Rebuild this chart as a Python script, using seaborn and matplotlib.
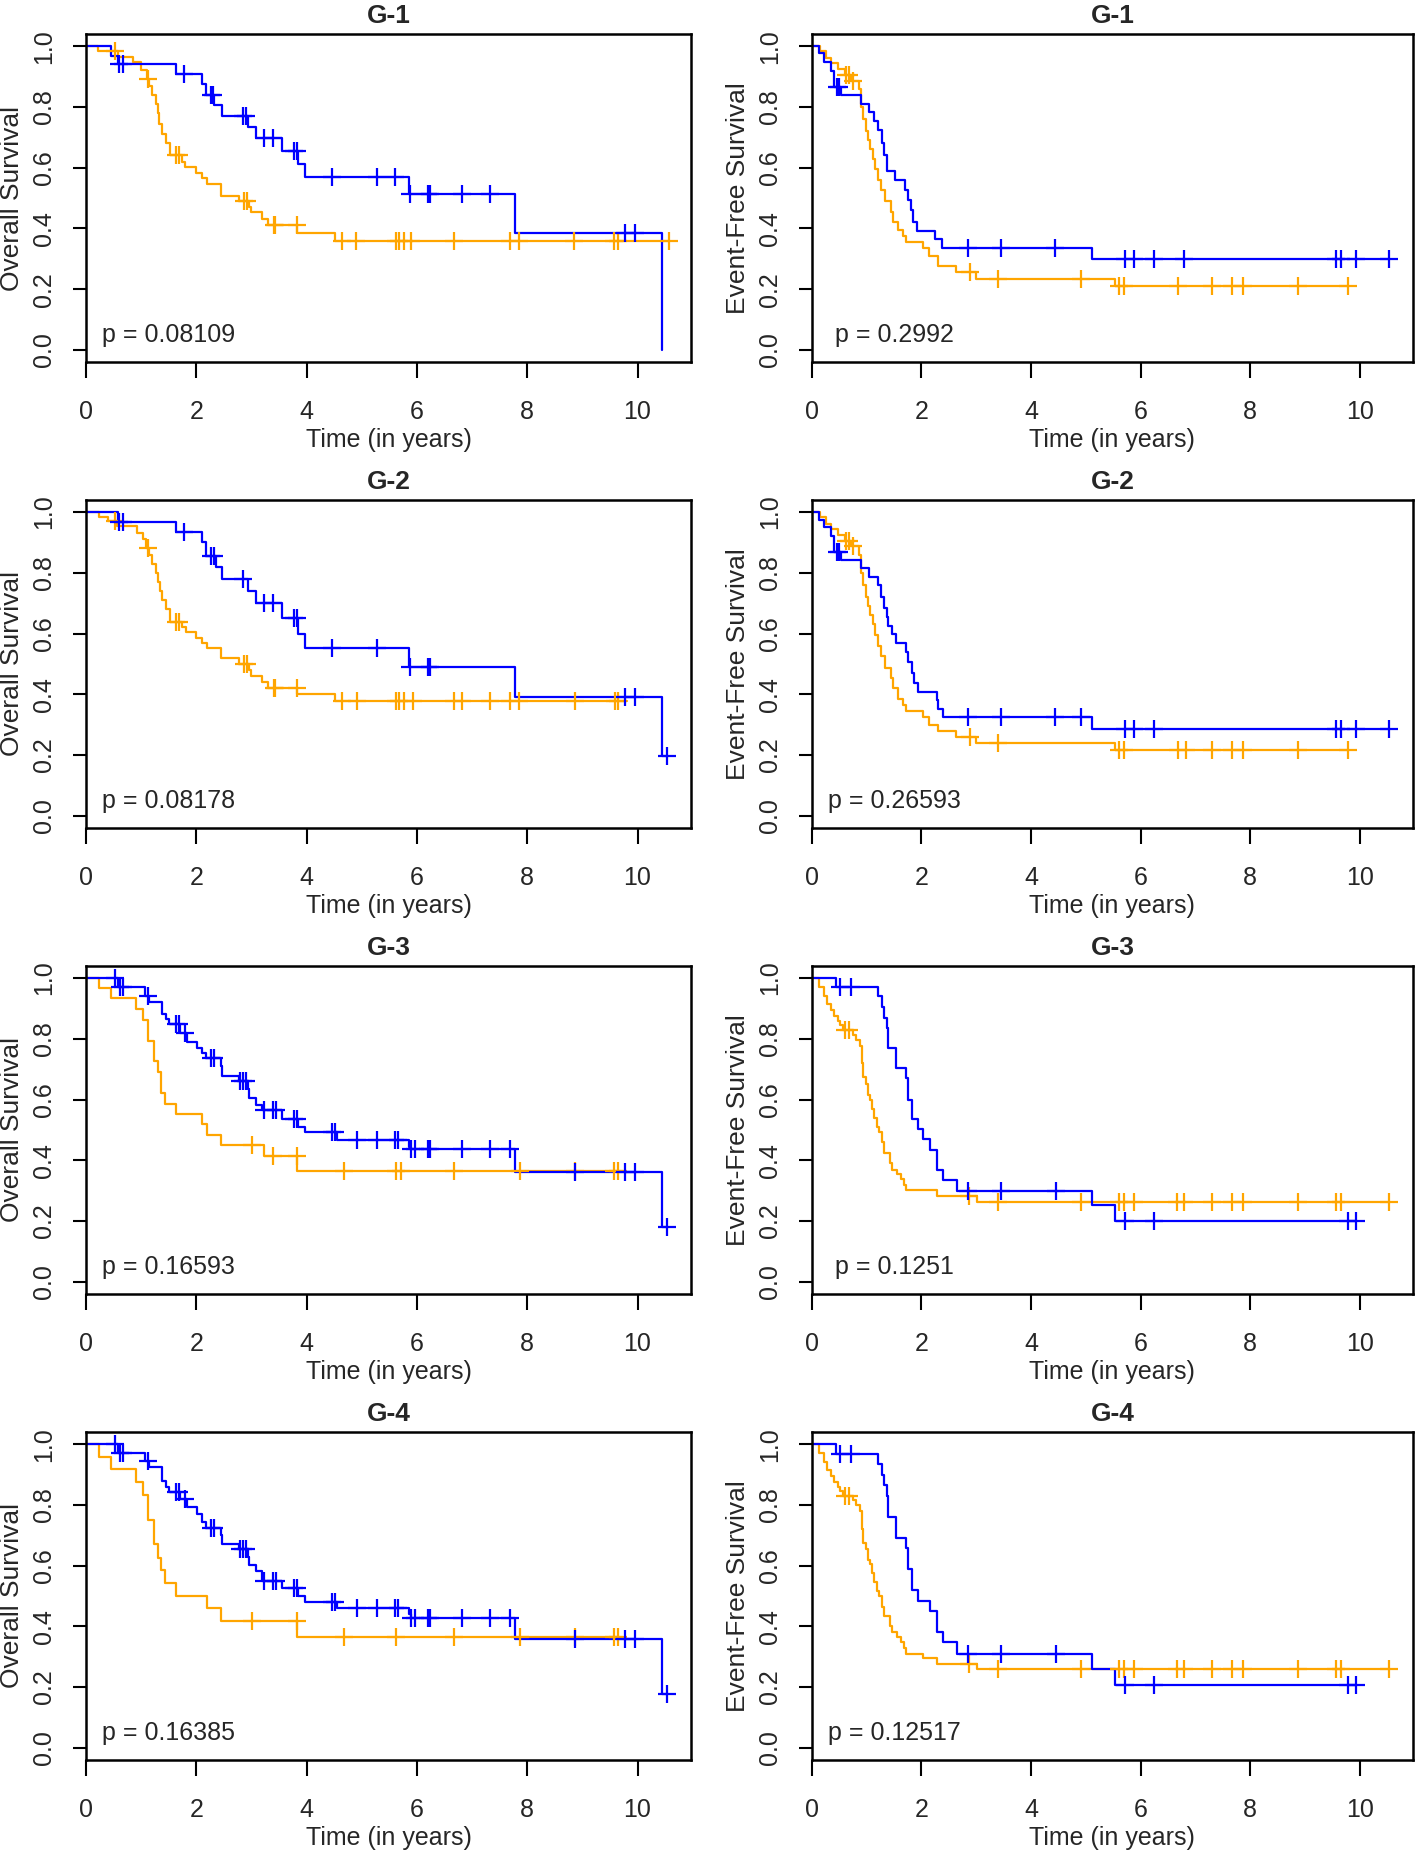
import matplotlib
matplotlib.use("Agg")
import matplotlib.pyplot as plt
import numpy as np
import pandas as pd
import seaborn as sns

# ---- data (Kaplan-Meier step values) ----
titles = ["G-1", "G-1", "G-2", "G-2", "G-3", "G-3", "G-4", "G-4"]
ylabels = ["Overall Survival", "Event-Free Survival"] * 4
pvalues = ["p = 0.08109", "p = 0.2992", "p = 0.08178", "p = 0.26593",
           "p = 0.16593", "p = 0.1251", "p = 0.16385", "p = 0.12517"]

# OS G-1
os1_blue_t = [0, 0.46, 0.58, 1.64, 2.10, 2.18, 2.33, 2.47, 2.93, 3.08, 3.56, 3.85, 3.98, 5.86, 7.78, 10.44]
os1_blue_s = [1.0, 0.969, 0.940, 0.909, 0.876, 0.840, 0.805, 0.771, 0.735, 0.698, 0.656, 0.613, 0.569, 0.513, 0.385, 0.0]
os1_blue_c = [0.60, 0.68, 1.78, 2.27, 2.31, 2.85, 2.90, 3.23, 3.40, 3.78, 3.83, 4.47, 5.27, 5.60, 5.88,
              6.20, 6.24, 6.81, 7.32, 9.78, 9.96]
os1_blue_end = 10.44
os1_orng_t = [0, 0.21, 0.58, 0.85, 1.00, 1.10, 1.15, 1.20, 1.27, 1.30, 1.33, 1.37, 1.45, 1.52, 1.74, 1.80,
              2.00, 2.10, 2.20, 2.45, 2.78, 2.95, 3.00, 3.20, 3.30, 3.83, 4.52]
os1_orng_s = [1.0, 0.984, 0.965, 0.947, 0.923, 0.893, 0.870, 0.840, 0.810, 0.780, 0.745, 0.710, 0.680, 0.641,
              0.620, 0.601, 0.582, 0.565, 0.546, 0.508, 0.489, 0.470, 0.453, 0.430, 0.410, 0.385, 0.360]
os1_orng_c = [0.52, 1.13, 1.63, 1.69, 2.86, 2.92, 3.41, 3.43, 3.82, 4.65, 4.90, 5.62, 5.67, 5.76, 5.90,
              6.67, 7.68, 7.85, 8.85, 9.58, 9.65, 10.58]
os1_orng_end = 10.58

# EFS G-1
efs1_blue_t = [0, 0.12, 0.22, 0.34, 0.40, 0.53, 0.90, 1.05, 1.13, 1.21, 1.27, 1.32, 1.37, 1.51, 1.70, 1.76,
               1.80, 1.84, 1.92, 2.25, 2.38, 5.11]
efs1_blue_s = [1.0, 0.978, 0.948, 0.920, 0.866, 0.838, 0.810, 0.782, 0.755, 0.725, 0.680, 0.643, 0.588, 0.560,
               0.527, 0.495, 0.460, 0.420, 0.393, 0.365, 0.335, 0.300]
efs1_blue_c = [0.46, 0.50, 2.84, 3.46, 4.44, 5.72, 5.88, 6.24, 6.80, 9.57, 9.65, 9.94, 10.54]
efs1_blue_end = 10.54
efs1_orng_t = [0, 0.14, 0.25, 0.34, 0.48, 0.60, 0.72, 0.86, 0.90, 0.94, 0.98, 1.02, 1.06, 1.11, 1.16, 1.21,
               1.26, 1.33, 1.44, 1.48, 1.58, 1.66, 1.72, 2.02, 2.14, 2.31, 2.63, 3.00, 5.54]
efs1_orng_s = [1.0, 0.985, 0.960, 0.945, 0.925, 0.905, 0.887, 0.860, 0.800, 0.760, 0.720, 0.690, 0.660, 0.630,
               0.595, 0.560, 0.525, 0.490, 0.455, 0.420, 0.395, 0.375, 0.355, 0.335, 0.310, 0.275, 0.255,
               0.235, 0.210]
efs1_orng_c = [0.62, 0.68, 0.75, 2.88, 3.39, 4.91, 5.60, 5.70, 6.69, 7.31, 7.67, 7.87, 8.87, 9.78]
efs1_orng_end = 9.78

# OS G-2
os2_blue_t = [0, 0.58, 1.64, 2.10, 2.18, 2.35, 2.47, 2.93, 3.08, 3.56, 3.85, 3.98, 5.86, 7.78, 10.44]
os2_blue_s = [1.0, 0.969, 0.934, 0.900, 0.857, 0.818, 0.780, 0.741, 0.699, 0.651, 0.600, 0.552, 0.490, 0.391, 0.196]
os2_blue_c = [0.60, 0.68, 1.78, 2.27, 2.33, 2.85, 3.23, 3.40, 3.78, 3.82, 4.47, 5.27, 5.87, 6.21, 6.24,
              9.78, 9.96, 10.53]
os2_blue_end = 10.53
os2_orng_t = [0, 0.23, 0.40, 0.56, 0.93, 1.04, 1.08, 1.15, 1.20, 1.27, 1.31, 1.34, 1.38, 1.45, 1.52, 1.75,
              1.81, 2.00, 2.10, 2.20, 2.45, 2.78, 2.95, 3.00, 3.20, 3.30, 3.83, 4.52]
os2_orng_s = [1.0, 0.985, 0.970, 0.955, 0.930, 0.910, 0.882, 0.860, 0.830, 0.800, 0.770, 0.740, 0.710, 0.680,
              0.637, 0.620, 0.604, 0.585, 0.570, 0.553, 0.518, 0.500, 0.480, 0.460, 0.440, 0.420, 0.400, 0.378]
os2_orng_c = [0.52, 1.13, 1.63, 1.69, 2.86, 2.92, 3.41, 3.43, 3.82, 4.65, 4.92, 5.62, 5.67, 5.76, 5.93,
              6.67, 6.81, 7.32, 7.68, 7.86, 8.87, 9.59, 9.65]
os2_orng_end = 9.81

# EFS G-2
efs2_blue_t = [0, 0.12, 0.22, 0.34, 0.40, 0.53, 0.90, 1.05, 1.21, 1.26, 1.32, 1.37, 1.39, 1.47, 1.54, 1.72,
               1.76, 1.82, 1.86, 1.94, 2.28, 2.31, 2.39, 5.11]
efs2_blue_s = [1.0, 0.975, 0.950, 0.920, 0.870, 0.843, 0.815, 0.787, 0.760, 0.720, 0.685, 0.655, 0.625, 0.597,
               0.570, 0.540, 0.505, 0.470, 0.436, 0.407, 0.380, 0.350, 0.326, 0.286]
efs2_blue_c = [0.46, 0.50, 2.84, 3.46, 4.44, 4.91, 5.72, 5.88, 6.24, 9.57, 9.65, 9.94, 10.54]
efs2_blue_end = 10.54
efs2_orng_t = [0, 0.14, 0.25, 0.34, 0.48, 0.60, 0.72, 0.86, 0.90, 0.94, 0.98, 1.02, 1.06, 1.11, 1.16, 1.21,
               1.26, 1.33, 1.44, 1.48, 1.58, 1.66, 1.72, 2.02, 2.14, 2.31, 2.63, 3.00, 5.54]
efs2_orng_s = [1.0, 0.985, 0.960, 0.945, 0.925, 0.905, 0.887, 0.860, 0.800, 0.760, 0.720, 0.690, 0.660, 0.630,
               0.595, 0.560, 0.525, 0.485, 0.455, 0.420, 0.385, 0.365, 0.345, 0.325, 0.300, 0.280, 0.260,
               0.240, 0.216]
efs2_orng_c = [0.62, 0.68, 0.75, 2.88, 3.39, 5.60, 5.70, 6.69, 6.82, 7.31, 7.67, 7.87, 8.87, 9.78]
efs2_orng_end = 9.78

# OS G-3
os3_blue_t = [0, 0.58, 1.07, 1.15, 1.37, 1.46, 1.50, 1.71, 1.83, 2.01, 2.10, 2.18, 2.45, 2.47, 2.78, 2.93,
              2.95, 3.08, 3.20, 3.56, 3.85, 3.98, 4.55, 5.86, 5.89, 7.78, 10.44]
os3_blue_s = [1.0, 0.970, 0.942, 0.920, 0.881, 0.865, 0.848, 0.820, 0.790, 0.771, 0.755, 0.736, 0.710, 0.678,
              0.662, 0.635, 0.604, 0.581, 0.565, 0.537, 0.510, 0.493, 0.466, 0.445, 0.436, 0.363, 0.180]
os3_blue_c = [0.52, 0.62, 0.68, 1.13, 1.64, 1.69, 1.79, 2.27, 2.33, 2.80, 2.85, 2.90, 3.22, 3.40, 3.44,
              3.78, 3.82, 4.47, 4.52, 4.92, 5.27, 5.60, 5.66, 5.90, 5.96, 6.21, 6.24, 6.81, 7.32, 7.68,
              8.87, 9.78, 9.96, 10.53]
os3_blue_end = 10.53
os3_orng_t = [0, 0.23, 0.45, 0.90, 1.04, 1.13, 1.24, 1.30, 1.36, 1.44, 1.63, 2.10, 2.19, 2.45, 3.22, 3.83]
os3_orng_s = [1.0, 0.967, 0.934, 0.898, 0.862, 0.793, 0.727, 0.692, 0.622, 0.587, 0.554, 0.519, 0.482, 0.449,
              0.413, 0.365]
os3_orng_c = [3.01, 3.40, 3.82, 4.67, 5.62, 5.72, 6.67, 7.87, 8.87, 9.58, 9.65]
os3_orng_end = 9.65

# EFS G-3
efs3_blue_t = [0, 0.44, 1.21, 1.27, 1.32, 1.37, 1.39, 1.54, 1.72, 1.76, 1.82, 1.94, 2.03, 2.15, 2.29, 2.39,
               2.65, 5.11, 5.53]
efs3_blue_s = [1.0, 0.970, 0.940, 0.906, 0.870, 0.835, 0.769, 0.703, 0.670, 0.600, 0.537, 0.504, 0.471, 0.433,
               0.367, 0.334, 0.298, 0.253, 0.200]
efs3_blue_c = [0.51, 0.71, 2.85, 3.45, 4.45, 5.72, 6.24, 9.78, 9.94]
efs3_blue_end = 9.94
efs3_orng_t = [0, 0.12, 0.22, 0.28, 0.34, 0.40, 0.47, 0.52, 0.57, 0.75, 0.81, 0.87, 0.91, 0.94, 0.98, 1.02,
               1.06, 1.10, 1.14, 1.18, 1.23, 1.27, 1.31, 1.43, 1.47, 1.55, 1.62, 1.68, 1.72, 2.29, 3.02]
efs3_orng_s = [1.0, 0.970, 0.940, 0.915, 0.895, 0.875, 0.860, 0.845, 0.830, 0.813, 0.795, 0.775, 0.720, 0.675,
               0.650, 0.615, 0.600, 0.570, 0.540, 0.510, 0.493, 0.460, 0.425, 0.390, 0.367, 0.355, 0.339,
               0.320, 0.301, 0.282, 0.262]
efs3_orng_c = [0.61, 0.67, 2.87, 3.39, 4.91, 5.60, 5.70, 5.87, 6.67, 6.79, 7.31, 7.67, 7.87, 8.87, 9.57,
               9.65, 10.54]
efs3_orng_end = 10.54

# OS G-4
os4_blue_t = [0, 0.58, 1.07, 1.15, 1.37, 1.46, 1.50, 1.71, 1.83, 2.01, 2.10, 2.18, 2.45, 2.47, 2.78, 2.93,
              2.95, 3.08, 3.20, 3.56, 3.85, 3.98, 4.55, 5.86, 5.89, 7.78, 10.44]
os4_blue_s = [1.0, 0.972, 0.945, 0.925, 0.877, 0.860, 0.842, 0.820, 0.794, 0.770, 0.745, 0.725, 0.700, 0.670,
              0.655, 0.630, 0.602, 0.582, 0.550, 0.525, 0.500, 0.480, 0.459, 0.440, 0.428, 0.357, 0.178]
os4_blue_c = [0.52, 0.62, 0.68, 1.13, 1.64, 1.69, 1.79, 2.27, 2.33, 2.80, 2.85, 2.90, 3.22, 3.40, 3.44,
              3.78, 3.82, 4.47, 4.52, 4.92, 5.27, 5.60, 5.66, 5.90, 5.96, 6.21, 6.24, 6.81, 7.32, 7.68,
              8.87, 9.78, 9.96, 10.53]
os4_blue_end = 10.53
os4_orng_t = [0, 0.23, 0.45, 0.90, 1.04, 1.13, 1.24, 1.30, 1.36, 1.44, 1.63, 2.19, 2.45, 3.83]
os4_orng_s = [1.0, 0.959, 0.919, 0.875, 0.833, 0.750, 0.670, 0.626, 0.585, 0.543, 0.500, 0.459, 0.417, 0.365]
os4_orng_c = [3.01, 3.82, 4.67, 5.62, 6.67, 7.87, 8.87, 9.58, 9.65]
os4_orng_end = 9.65

# EFS G-4
efs4_blue_t = [0, 0.44, 1.21, 1.27, 1.32, 1.37, 1.39, 1.54, 1.72, 1.76, 1.82, 1.94, 2.15, 2.29, 2.39, 2.65,
               5.11, 5.53]
efs4_blue_s = [1.0, 0.967, 0.935, 0.899, 0.865, 0.830, 0.761, 0.692, 0.657, 0.590, 0.519, 0.485, 0.450, 0.380,
               0.347, 0.310, 0.258, 0.208]
efs4_blue_c = [0.51, 0.71, 2.85, 3.45, 4.45, 5.72, 6.24, 9.78, 9.94]
efs4_blue_end = 9.94
efs4_orng_t = [0, 0.12, 0.22, 0.28, 0.34, 0.40, 0.47, 0.52, 0.57, 0.75, 0.81, 0.87, 0.91, 0.94, 0.98, 1.02,
               1.06, 1.10, 1.14, 1.18, 1.23, 1.27, 1.31, 1.43, 1.47, 1.55, 1.62, 1.68, 1.72, 2.02, 2.29, 3.02]
efs4_orng_s = [1.0, 0.970, 0.940, 0.915, 0.895, 0.875, 0.860, 0.845, 0.830, 0.815, 0.800, 0.780, 0.720, 0.675,
               0.655, 0.620, 0.605, 0.575, 0.545, 0.515, 0.500, 0.465, 0.435, 0.400, 0.380, 0.365, 0.350,
               0.330, 0.310, 0.295, 0.276, 0.260]
efs4_orng_c = [0.61, 0.67, 2.87, 3.39, 4.91, 5.60, 5.70, 5.87, 6.67, 6.79, 7.31, 7.67, 7.87, 8.87, 9.57,
               9.65, 10.54]
efs4_orng_end = 10.54

BLUE = "#0000ff"
ORANGE = "#ffa500"

panels = [
    ((os1_orng_t, os1_orng_s, os1_orng_c, os1_orng_end), (os1_blue_t, os1_blue_s, os1_blue_c, os1_blue_end)),
    ((efs1_orng_t, efs1_orng_s, efs1_orng_c, efs1_orng_end), (efs1_blue_t, efs1_blue_s, efs1_blue_c, efs1_blue_end)),
    ((os2_orng_t, os2_orng_s, os2_orng_c, os2_orng_end), (os2_blue_t, os2_blue_s, os2_blue_c, os2_blue_end)),
    ((efs2_orng_t, efs2_orng_s, efs2_orng_c, efs2_orng_end), (efs2_blue_t, efs2_blue_s, efs2_blue_c, efs2_blue_end)),
    ((os3_orng_t, os3_orng_s, os3_orng_c, os3_orng_end), (os3_blue_t, os3_blue_s, os3_blue_c, os3_blue_end)),
    ((efs3_orng_t, efs3_orng_s, efs3_orng_c, efs3_orng_end), (efs3_blue_t, efs3_blue_s, efs3_blue_c, efs3_blue_end)),
    ((os4_orng_t, os4_orng_s, os4_orng_c, os4_orng_end), (os4_blue_t, os4_blue_s, os4_blue_c, os4_blue_end)),
    ((efs4_orng_t, efs4_orng_s, efs4_orng_c, efs4_orng_end), (efs4_blue_t, efs4_blue_s, efs4_blue_c, efs4_blue_end)),
]


def km_frame(times, surv, end):
    return pd.DataFrame({"time": list(times) + [end], "surv": list(surv) + [surv[-1]]})


def censor_frame(times, surv, cens):
    idx = np.searchsorted(np.asarray(times), np.asarray(cens), side="right") - 1
    return pd.DataFrame({"time": cens, "surv": np.asarray(surv)[idx]})


def main():
    sns.set_style("ticks")
    plt.rcParams["font.family"] = ["Liberation Sans", "DejaVu Sans"]

    fig = plt.figure(figsize=(14.16, 18.53), dpi=100)
    lefts = [0.0607, 0.5734]
    widths = [0.4273, 0.4244]
    bottoms = [0.8046, 0.5532, 0.3017, 0.0502]
    height = 0.1770

    for i, curves in enumerate(panels):
        row, col = divmod(i, 2)
        ax = fig.add_axes([lefts[col], bottoms[row], widths[col], height])

        for (t, s, c, end), color in zip(curves, [ORANGE, BLUE]):
            sns.lineplot(data=km_frame(t, s, end), x="time", y="surv", drawstyle="steps-post",
                         estimator=None, sort=False, color=color, linewidth=1.6, ax=ax)
            sns.scatterplot(data=censor_frame(t, s, c), x="time", y="surv", marker="+", s=160,
                            linewidth=1.6, color=color, ax=ax, zorder=3)

        ax.set_xlim(0, 10.97)
        ax.set_ylim(-0.04, 1.04)
        ax.set_xticks(range(0, 11, 2))
        ax.set_yticks([0, 0.2, 0.4, 0.6, 0.8, 1.0])
        ax.set_yticklabels(["0.0", "0.2", "0.4", "0.6", "0.8", "1.0"], rotation=90, va="center")
        ax.tick_params(axis="x", length=11.5, width=1.5, pad=16, labelsize=18, color="black")
        ax.tick_params(axis="y", length=9.5, width=1.5, pad=12, labelsize=18, color="black")
        for sp in ax.spines.values():
            sp.set_visible(True)
            sp.set_linewidth(1.8)
            sp.set_color("black")

        ax.set_title(titles[i], fontsize=19, fontweight="bold", pad=8)
        ax.set_xlabel("Time (in years)", fontsize=18, labelpad=3)
        ax.set_ylabel(ylabels[i], fontsize=19, labelpad=6)
        ax.text(1.5, 0.05, pvalues[i], ha="center", va="center", fontsize=18)

    fig.savefig("out.png", dpi=100)
    plt.close(fig)


if __name__ == "__main__":
    main()
